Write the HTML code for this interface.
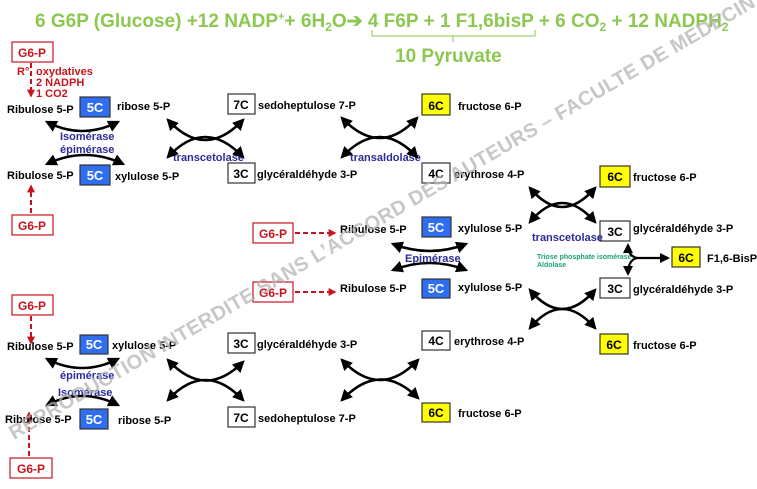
<!DOCTYPE html>
<html><head><meta charset="utf-8"><style>
html,body{margin:0;padding:0;background:#fff;}
svg{display:block;font-family:"Liberation Sans",Arial,sans-serif;font-weight:bold;}
.t{font-size:11px;fill:#000;}
.b{font-size:11px;fill:#2b2b9a;}
.r{font-size:11px;fill:#c8141e;}
.n{font-size:12px;}
</style></head><body>
<svg width="757" height="489" viewBox="0 0 757 489" xmlns="http://www.w3.org/2000/svg">
<defs>
<marker id="a" viewBox="0 0 10 10" refX="8" refY="5" markerWidth="4.6" markerHeight="4.6" orient="auto-start-reverse"><path d="M0,0 L10,5 L0,10 z" fill="#000"/></marker>
<marker id="ar" viewBox="0 0 10 10" refX="8" refY="5" markerWidth="4" markerHeight="4" orient="auto"><path d="M0,0 L10,5 L0,10 z" fill="#c8141e"/></marker>
</defs>
<!-- title -->
<text x="35" y="27" font-size="19" fill="#8cc850">6 G6P (Glucose) +12 NADP<tspan font-size="11" dy="-7">+</tspan><tspan dy="7">+ 6H</tspan><tspan font-size="12" dy="4">2</tspan><tspan dy="-4">O➔ 4 F6P + 1 F1,6bisP + 6 CO</tspan><tspan font-size="12" dy="4">2</tspan><tspan dy="-4"> + 12 NADPH</tspan><tspan font-size="12" dy="4">2</tspan></text>
<path d="M372,30 V36 H535 V30 M453,36 V42" stroke="#8cc850" stroke-width="1" fill="none"/>
<text x="395" y="62" font-size="19" fill="#8cc850">10 Pyruvate</text>

<g stroke="#c8141e" stroke-width="1.2" fill="#fff">
<rect x="12" y="42" width="41" height="20"/><rect x="12" y="215" width="41" height="20"/>
<rect x="253" y="223" width="40" height="20"/><rect x="253" y="282" width="40" height="20"/>
<rect x="12" y="295" width="41" height="20"/><rect x="10" y="458" width="42" height="20"/>
</g>
<g class="r n" text-anchor="middle">
<text x="32" y="57">G6-P</text><text x="32" y="230">G6-P</text><text x="273" y="238">G6-P</text>
<text x="273" y="297">G6-P</text><text x="32" y="310">G6-P</text><text x="31" y="473">G6-P</text>
</g>
<g stroke="#c8141e" stroke-width="2" stroke-dasharray="5,3" fill="none">
<path d="M31,63 V96" marker-end="url(#ar)"/><path d="M31,213 V186" marker-end="url(#ar)"/>
<path d="M295,233 H335" marker-end="url(#ar)"/><path d="M295,292 H335" marker-end="url(#ar)"/>
<path d="M31,316 V343" marker-end="url(#ar)"/><path d="M29,456 V413" marker-end="url(#ar)"/>
</g>
<g class="r" font-size="9"><text x="17" y="75">R°</text><text x="36" y="75">oxydatives</text><text x="36" y="86">2 NADPH</text><text x="36" y="97">1 CO2</text></g>

<!-- boxes -->
<g stroke="#333" stroke-width="1.2">
<g fill="#2f6ef0">
<rect x="80" y="97" width="30" height="20"/><rect x="80" y="165" width="30" height="20"/>
<rect x="422" y="217" width="29" height="20"/><rect x="422" y="279" width="28" height="19"/>
<rect x="80" y="335" width="28" height="19"/><rect x="80" y="409" width="28" height="20"/>
</g>
<g fill="#fff">
<rect x="228" y="94" width="27" height="20"/><rect x="228" y="163" width="27" height="20"/>
<rect x="422" y="163" width="28" height="20"/><rect x="600" y="221" width="30" height="20"/>
<rect x="600" y="278" width="30" height="20"/><rect x="422" y="331" width="28" height="19"/>
<rect x="228" y="333" width="27" height="20"/><rect x="228" y="407" width="27" height="20"/>
</g>
<g fill="#ffff00">
<rect x="422" y="94" width="28" height="21"/><rect x="600" y="166" width="30" height="21"/>
<rect x="672" y="247" width="28" height="20"/><rect x="600" y="334" width="28" height="20"/>
<rect x="422" y="403" width="28" height="19"/>
</g>
</g>
<g font-size="13" fill="#fff" text-anchor="middle">
<text x="95" y="112">5C</text><text x="95" y="180">5C</text><text x="436" y="232">5C</text>
<text x="436" y="293">5C</text><text x="94" y="349">5C</text><text x="94" y="424">5C</text>
</g>
<g font-size="12" fill="#000" text-anchor="middle">
<text x="241" y="109">7C</text><text x="241" y="178">3C</text><text x="436" y="178">4C</text>
<text x="615" y="236">3C</text><text x="615" y="293">3C</text><text x="436" y="345">4C</text>
<text x="241" y="348">3C</text><text x="241" y="422">7C</text>
<text x="436" y="110">6C</text><text x="615" y="181">6C</text><text x="686" y="262">6C</text>
<text x="614" y="349">6C</text><text x="436" y="417">6C</text>
</g>

<g class="t">
<text x="7" y="113">Ribulose 5-P</text><text x="117" y="110">ribose 5-P</text>
<text x="258" y="109">sedoheptulose 7-P</text><text x="458" y="110">fructose 6-P</text>
<text x="7" y="179">Ribulose 5-P</text><text x="115" y="180">xylulose 5-P</text>
<text x="257" y="178">glycéraldéhyde 3-P</text><text x="454" y="178">erythrose 4-P</text>
<text x="633" y="181">fructose 6-P</text>
<text x="340" y="233">Ribulose 5-P</text><text x="458" y="232">xylulose 5-P</text>
<text x="633" y="232">glycéraldéhyde 3-P</text><text x="707" y="262">F1,6-BisP</text>
<text x="340" y="292">Ribulose 5-P</text><text x="458" y="291">xylulose 5-P</text>
<text x="633" y="293">glycéraldéhyde 3-P</text>
<text x="454" y="345">erythrose 4-P</text><text x="633" y="349">fructose 6-P</text>
<text x="7" y="350">Ribulose 5-P</text><text x="112" y="349">xylulose 5-P</text>
<text x="257" y="348">glycéraldéhyde 3-P</text>
<text x="5" y="423">Ribulose 5-P</text><text x="118" y="424">ribose 5-P</text>
<text x="258" y="422">sedoheptulose 7-P</text><text x="458" y="417">fructose 6-P</text>
</g>
<g class="b" font-size="9">
<text x="60" y="140">Isomérase</text><text x="60" y="153">épimérase</text>
<text x="173" y="161">transcetolase</text><text x="350" y="161">transaldolase</text>
<text x="405" y="262">Epimérase</text><text x="532" y="241">transcetolase</text>
<text x="60" y="379">épimérase</text><text x="58" y="396">Isomérase</text>
</g>
<g font-size="7" fill="#1aa07a"><text x="537" y="259">Triose phosphate isomérase</text><text x="537" y="267">Aldolase</text></g>

<!-- arrows -->
<g stroke="#000" stroke-width="2.6" fill="none" marker-start="url(#a)" marker-end="url(#a)">
<path d="M47,122 Q82,140 118,122"/><path d="M47,164 Q85,146 123,164"/>
<path d="M168,120 Q205,160 243,120"/><path d="M168,157 Q205,117 243,157"/>
<path d="M342,118 Q380,158 417,118"/><path d="M342,157 Q380,117 417,157"/>
<path d="M530,188 Q562,226 595,188"/><path d="M530,222 Q562,184 595,222"/>
<path d="M393,244 Q430,258 466,244"/><path d="M393,270 Q430,256 466,270"/>
<path d="M530,290 Q562,328 595,290"/><path d="M530,328 Q562,290 595,328"/>
<path d="M168,360 Q205,400 243,362"/><path d="M168,400 Q205,360 243,400"/>
<path d="M342,360 Q380,400 418,360"/><path d="M342,400 Q380,360 418,398"/>
<path d="M47,359 Q82,377 118,359"/><path d="M47,405 Q82,387 118,405"/>
</g>
<g stroke="#000" stroke-width="2.2" fill="none">
<path d="M637,258 H668" marker-end="url(#a)"/>
<path d="M637,258 Q628,256 628,245" marker-end="url(#a)"/>
<path d="M637,258 Q628,260 628,274" marker-end="url(#a)"/>
</g>

<!-- watermark -->
<text x="0" y="0" transform="translate(14,440) rotate(-30.3)" font-size="20" fill="#b4b4b4" fill-opacity="0.75" textLength="860" lengthAdjust="spacing">REPRODUCTION INTERDITE SANS L’ACCORD DES AUTEURS – FACULTE DE MEDECIN</text>
</svg>
</body></html>
